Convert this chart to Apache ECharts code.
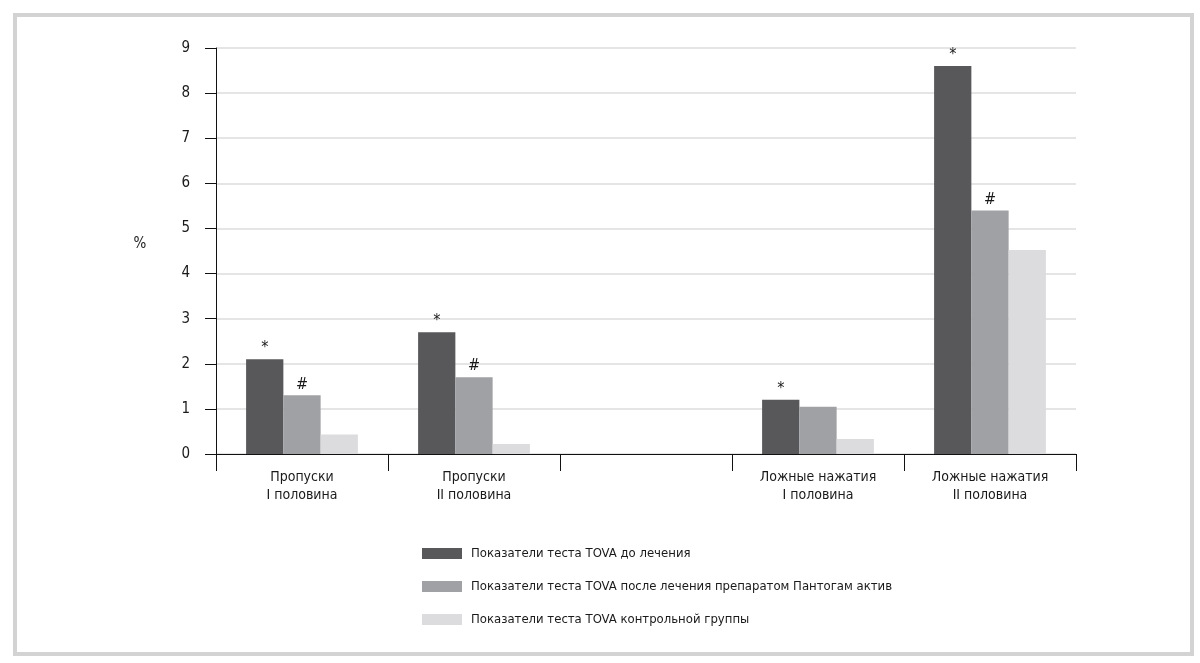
<!DOCTYPE html>
<html>
<head>
<meta charset="utf-8">
<script src="https://cdn.jsdelivr.net/npm/echarts@6/dist/echarts.min.js"></script>
<style>
html,body{margin:0;padding:0;background:#fff;}
#c{width:1200px;height:663px;}
</style>
</head>
<body>
<div id="c"></div>
<script>
var categories = ['Пропуски\nI половина', 'Пропуски\nII половина', '', 'Ложные нажатия\nI половина', 'Ложные нажатия\nII половина'];
var seriesNames = ['Показатели теста TOVA до лечения', 'Показатели теста TOVA после лечения препаратом Пантогам актив', 'Показатели теста TOVA контрольной группы'];
var beforeValues = [2.1, 2.7, null, 1.2, 8.6];
var afterValues = [1.3, 1.7, null, 1.05, 5.4];
var controlValues = [0.43, 0.22, null, 0.33, 4.52];
var beforeMarks = ['*', '*', '', '*', '*'];
var afterMarks = ['#', '#', '', '', '#'];
var controlMarks = ['', '', '', '', ''];
var yTicks = [0, 1, 2, 3, 4, 5, 6, 7, 8, 9];

var FONT = '"Liberation Sans Narrow", "DejaVu Sans Condensed", "Roboto Condensed", sans-serif';
var colors = ['#58585a', '#a0a1a4', '#dcdcde'];

function build(values, marks) {
  return values.map(function (v, i) {
    return {
      value: v,
      label: { show: !!marks[i], formatter: marks[i] }
    };
  });
}

var valueSets = [beforeValues, afterValues, controlValues];
var markSets = [beforeMarks, afterMarks, controlMarks];

var chart = echarts.init(document.getElementById('c'));
chart.setOption({
  animation: false,
  color: colors,
  textStyle: { fontFamily: FONT },
  graphic: [{
    type: 'rect',
    shape: { x: 15, y: 15, width: 1177, height: 639 },
    style: { fill: 'none', stroke: '#d3d3d3', lineWidth: 4 },
    silent: true
  }, {
    type: 'text',
    x: 140,
    y: 244,
    style: { text: '%', fontFamily: FONT, fontSize: 15, fill: '#1a1a1a', align: 'center', verticalAlign: 'middle' },
    silent: true
  }],
  grid: { left: 216, right: 124, top: 48, bottom: 209 },
  legend: {
    orient: 'vertical',
    left: 417,
    top: 542,
    itemWidth: 40,
    itemHeight: 11,
    itemGap: 20,
    icon: 'rect',
    textStyle: { fontFamily: FONT, fontSize: 13, color: '#1a1a1a', padding: [0, 0, 0, 4] },
    data: seriesNames
  },
  xAxis: {
    type: 'category',
    data: categories,
    boundaryGap: true,
    axisLine: { lineStyle: { color: '#111', width: 1 } },
    axisTick: { show: true, length: 17, lineStyle: { color: '#111' } },
    axisLabel: { fontFamily: FONT, fontSize: 14, color: '#1a1a1a', margin: 14, lineHeight: 18, interval: 0 },
    splitLine: { show: false }
  },
  yAxis: {
    type: 'value',
    min: yTicks[0],
    max: yTicks[yTicks.length - 1],
    interval: 1,
    axisLine: { show: true, lineStyle: { color: '#111', width: 1 } },
    axisTick: { show: true, length: 11, lineStyle: { color: '#111' } },
    axisLabel: { fontFamily: FONT, fontSize: 15, color: '#1a1a1a', margin: 26 },
    splitLine: { show: true, lineStyle: { color: '#dcdcdc', width: 1.5 } }
  },
  series: seriesNames.map(function (name, k) {
    return {
      name: name,
      type: 'bar',
      barGap: '0%',
      barCategoryGap: '35%',
      data: build(valueSets[k], markSets[k]),
      itemStyle: { color: colors[k] },
      label: { position: 'top', distance: 3, fontFamily: FONT, fontSize: 16, color: '#1a1a1a' }
    };
  })
});
</script>
</body>
</html>
